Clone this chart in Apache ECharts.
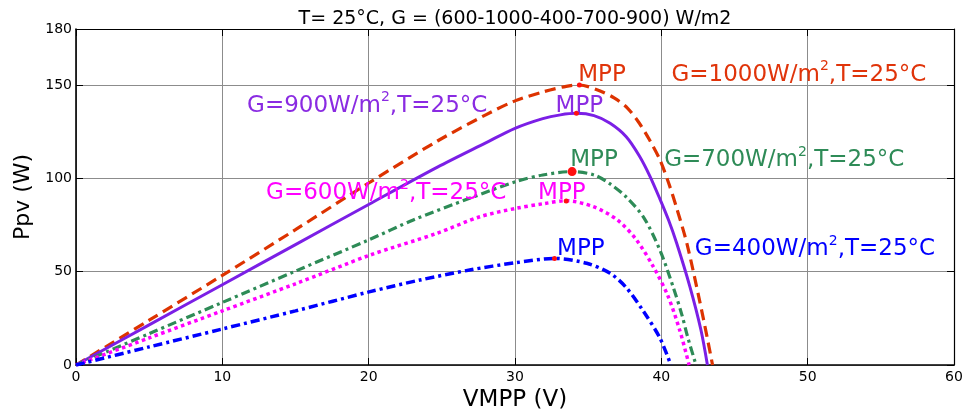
<!DOCTYPE html>
<html>
<head>
<meta charset="utf-8">
<script src="https://cdn.jsdelivr.net/npm/echarts@6/dist/echarts.min.js"></script>
<style>
  html, body { margin: 0; padding: 0; background: #fff; }
  #chart { width: 965px; height: 412px; }
</style>
</head>
<body>
<div id="chart"></div>
<script>
// P-V curves of the PV module at T = 25 °C for several irradiance levels
// Each entry: [voltage V, power W]
const curve1000 = [[0,0],[5,24],[10,48],[15,72.5],[20,97.5],[24.7,120],[28,134],[30,141.5],[32,146.5],[33.5,149.3],[34.4,150],[35.6,147.5],[36.8,143],[37.7,137.5],[38.5,129.5],[39.2,120.5],[39.9,110],[40.5,97.5],[41.05,84],[41.75,65],[42.6,35],[43.1,16],[43.5,0]];
const curve900  = [[0,0],[5,21.5],[10,43],[15,64.5],[20,86],[24.7,106],[28,119],[30,126.8],[31.9,132],[33.1,134],[34.2,134.8],[35.4,133.6],[36.5,129.5],[37.6,122.3],[38.5,112],[39.2,101.5],[39.9,89],[40.5,77.5],[41.05,65.2],[41.95,42],[42.7,19],[43.15,0]];
const curve700  = [[0,0],[5,16.8],[10,33.5],[15,50.3],[20,67],[23.05,77.7],[26.9,89.3],[30.05,98.2],[31.9,101.8],[33.9,103.6],[35.4,101.8],[36.5,97],[37.6,90],[38.8,79],[39.9,61.6],[40.8,42],[41.4,27],[41.8,15],[42.37,0]];
const curve600  = [[0,0],[5,14.5],[10,29],[15,43.5],[20.1,58.9],[24.65,70.5],[27.6,79.4],[30.05,83.9],[32,86.5],[33.5,88],[35.35,84.8],[37,77.7],[38.3,67],[39.45,52.7],[40.45,37],[41.25,18.8],[41.9,0]];
const curve400  = [[0,0],[5,9.7],[10,19.3],[15,29],[20.1,39.3],[23.5,45.5],[26.9,50.9],[30.05,54.8],[32.7,57.1],[34.9,54.5],[36.5,49.1],[37.6,41.5],[38.8,28.5],[39.9,14.5],[40.65,0]];

// Maximum power points [V, P]
const mppPoints = [[34.4,150],[34.2,134.8],[33.9,103.6],[33.5,87.9],[32.7,57.1]];

// Irradiance of each curve (W/m2)
const irradiance = [1000, 900, 700, 600, 400];

// Text anchors (centre of each annotation, in axis units)
const mppTextPos = [[35.95,155.5],[34.4,139],[35.4,109.8],[33.2,92],[34.5,62]];
const gTextPos   = [[49.4,155.5],[19.9,139],[48.4,109.8],[21.2,92],[50.5,62]];

// Axis ticks
const xTicks = { min: 0, max: 60, step: 10 };
const yTicks = { min: 0, max: 180, step: 50 };

const FONT = 'DejaVu Sans';
const lineColors = ['#dd3300', '#7b1fe6', '#2e8b57', '#ff00ff', '#0000ff'];
const textColors = ['#e0340a', '#8a2be2', '#2e8b57', '#ff00ff', '#0000ff'];
const lineDash = [[11, 6], 'solid', [9, 4, 3, 4], [3.5, 3.5], [9, 4, 3, 4]];
const lineWidths = [3.2, 3, 3.2, 3.5, 3.5];
const curves = [curve1000, curve900, curve700, curve600, curve400];

function gLabel(g) {
  return '{a|G=' + g + 'W/m}{s|2}{a|,T=25\u00b0C}';
}

const series = curves.map((data, i) => ({
  type: 'line',
  name: 'G=' + irradiance[i],
  data: data,
  symbol: 'none',
  smooth: 0.3,
  z: 3,
  lineStyle: { color: lineColors[i], width: lineWidths[i], type: lineDash[i], cap: 'butt' }
}));

// MPP markers (the 700 W/m2 point is drawn as a larger dot)
series.push({
  type: 'scatter',
  data: mppPoints.map((p, i) => ({ value: p, symbolSize: i === 2 ? 9 : 5 })),
  symbol: 'circle',
  itemStyle: { color: '#ff1010', opacity: 1 },
  z: 5,
  silent: true
});

const richStyle = {
  a: { fontFamily: FONT, fontSize: 23, lineHeight: 30 },
  s: { fontFamily: FONT, fontSize: 14, lineHeight: 14, verticalAlign: 'top' }
};

const annotations = [];
for (let i = 0; i < irradiance.length; i++) {
  annotations.push({
    value: mppTextPos[i],
    label: { formatter: 'MPP', color: textColors[i], fontFamily: FONT, fontSize: 23 }
  });
  annotations.push({
    value: gTextPos[i],
    label: {
      formatter: gLabel(irradiance[i]),
      color: textColors[i],
      rich: {
        a: Object.assign({ color: textColors[i] }, richStyle.a),
        s: Object.assign({ color: textColors[i] }, richStyle.s)
      }
    }
  });
}
series.push({
  type: 'scatter',
  data: annotations,
  symbolSize: 0,
  silent: true,
  z: 6,
  itemStyle: { opacity: 1 },
  label: { show: true, position: 'inside', align: 'center', verticalAlign: 'middle', opacity: 1 }
});

const tickLabel = { color: '#000', fontFamily: FONT, fontSize: 14 };
const gridLine = { show: true, lineStyle: { color: '#8c8c8c', width: 1 } };

const option = {
  animation: false,
  backgroundColor: '#fff',
  title: {
    text: 'T= 25\u00b0C, G = (600-1000-400-700-900) W/m2',
    left: 510,
    top: 5,
    textAlign: 'center',
    textStyle: { color: '#000', fontFamily: FONT, fontSize: 19, fontWeight: 'normal' }
  },
  grid: { left: 76, right: 11, top: 29, bottom: 47, containLabel: false, outerBoundsMode: 'none' },
  xAxis: [
    {
      type: 'value', min: xTicks.min, max: xTicks.max, interval: xTicks.step, position: 'bottom',
      name: 'VMPP (V)', nameLocation: 'middle', nameGap: 18,
      nameTextStyle: { color: '#000', fontFamily: FONT, fontSize: 23 },
      axisLine: { show: true, onZero: false, lineStyle: { color: '#000', width: 1.6 } },
      axisTick: { show: true, inside: true, length: 7, lineStyle: { color: '#000', width: 1 } },
      axisLabel: Object.assign({ margin: 5 }, tickLabel),
      splitLine: gridLine
    },
    {
      type: 'value', min: xTicks.min, max: xTicks.max, interval: xTicks.step, position: 'top',
      axisLine: { show: true, onZero: false, lineStyle: { color: '#000', width: 1.2 } },
      axisTick: { show: true, inside: true, length: 7, lineStyle: { color: '#000', width: 1 } },
      axisLabel: { show: false },
      splitLine: { show: false }
    }
  ],
  yAxis: [
    {
      type: 'value', min: yTicks.min, max: yTicks.max, interval: yTicks.step, position: 'left',
      name: 'Ppv (W)', nameLocation: 'middle', nameGap: 42,
      nameTextStyle: { color: '#000', fontFamily: FONT, fontSize: 22 },
      axisLine: { show: true, onZero: false, lineStyle: { color: '#000', width: 1.6 } },
      axisTick: { show: true, inside: true, length: 7, lineStyle: { color: '#000', width: 1 } },
      axisLabel: Object.assign({ margin: 4 }, tickLabel),
      splitLine: gridLine
    },
    {
      type: 'value', min: yTicks.min, max: yTicks.max, interval: yTicks.step, position: 'right',
      axisLine: { show: true, onZero: false, lineStyle: { color: '#000', width: 1.2 } },
      axisTick: { show: true, inside: true, length: 7, lineStyle: { color: '#000', width: 1 } },
      axisLabel: { show: false },
      splitLine: { show: false }
    }
  ],
  series: series
};

const chart = echarts.init(document.getElementById('chart'), null, { renderer: 'canvas' });
chart.setOption(option);
</script>
</body>
</html>
